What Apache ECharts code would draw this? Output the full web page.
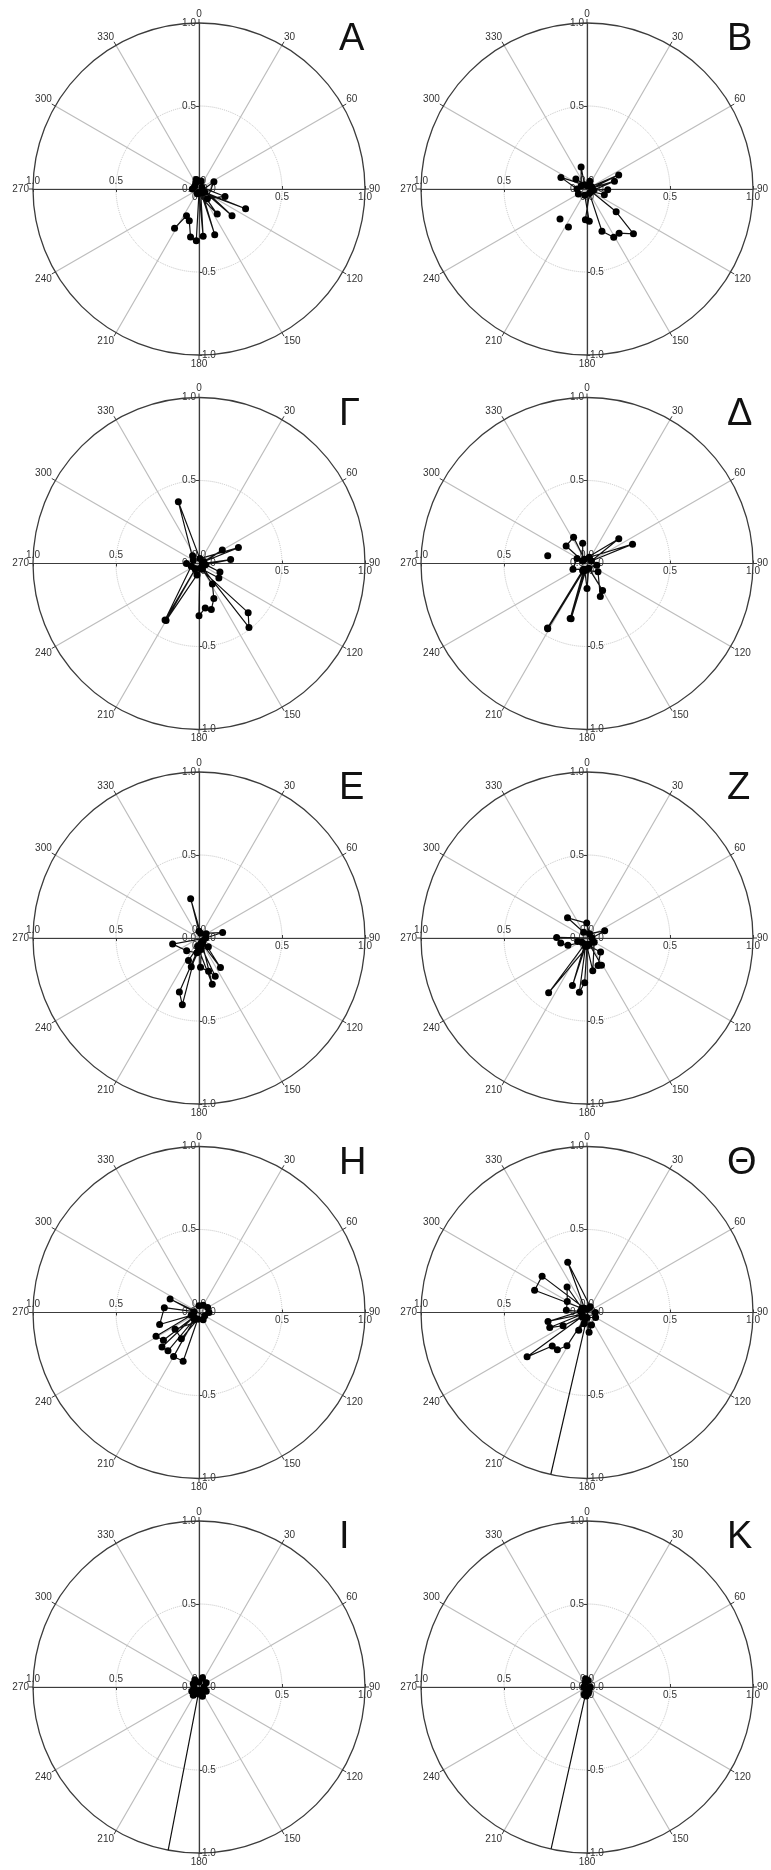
<!DOCTYPE html>
<html lang="en">
<head>
<meta charset="UTF-8">
<title>Polar vector panels</title>
<style>
    html, body { margin: 0; padding: 0; background: #fff; }
    #myChart { width: 771px; height: 1870px; }
</style>
</head>
<body>
<div id="myChart"></div>
<script src="https://cdn.jsdelivr.net/npm/echarts@6/dist/echarts.min.js"></script>
<script>
    // panel letters (Greek numbering)
    const letters = ['Α', 'Β', 'Γ', 'Δ', 'Ε', 'Ζ', 'Η', 'Θ', 'Ι', 'Κ'];
    const radiusTicks = [0, 0.5, 1.0];

    // radius (r) and angle in degrees (a), in drawing order; null breaks the line
    const rA = [0.04, 0.06, 0.05, 0.03, 0.04, 0.305, 0.04, 0.256, 0.02, 0.163, 0.077, 0.1, 0.03, 0.187, 0.03, 0.291, 0.02, 0.286, 0.02, 0.312, 0.294, 0.2, 0.178, 0.278];
    const aA = [330, 345, 15, 300, 270, 113, 120, 129, 60, 106, 139, 64, 200, 144, 140, 161, 150, 175, 180, 183, 190, 197, 205, 212];

    const rB = [0.05, 0.04, 0.137, 0.03, 0.09, 0.02, 0.172, 0.06, 0.03, 0.209, 0.03, 0.172, 0.04, 0.125, 0.11, 0.03, 0.223, 0.389, 0.329, 0.332, 0.27, 0.03, 0.185, 0.195, 0.04, 0.06, null, 0.243, null, 0.255];
    const aB = [20, 300, 345, 330, 312, 0, 294, 270, 60, 66, 80, 74, 100, 92, 108, 120, 128, 134, 144, 151, 160.5, 150, 183, 176, 200, 240, null, 222, null, 206];

    const rG = [0.04, 0.392, 0.03, 0.256, 0.03, 0.162, 0.02, 0.192, 0.04, 0.136, 0.148, 0.04, 0.148, 0.229, 0.287, 0.27, 0.315, 0.03, 0.419, 0.489, 0.03, 0.075, 0.07, 0.397, 0.04, 0.397, 0.05, 0.06];
    const aG = [300, 341.5, 10, 68, 70, 60, 90, 83, 100, 112, 126, 150, 147, 157, 165, 172, 180, 170, 135, 142, 140, 270, 190, 210, 215, 211, 250, 320];

    const rD = [0.04, 0.298, 0.03, 0.243, 0.03, 0.178, 0.164, 0.03, 0.125, null, 0.241, null, 0.067, 0.091, 0.04, 0.151, 0.03, 0.188, 0.214, 0.083, 0.04, 0.347, 0.04, 0.347, 0.05, 0.459, 0.04, 0.455, 0.05, 0.06];
    const aD = [20, 67, 60, 52, 330, 333, 310, 300, 348, null, 281, null, 297, 248, 200, 180, 160, 150, 158, 127, 190, 196, 200, 197, 205, 211, 210, 211.5, 212, 100];

    const rE = [0.04, 0.242, 0.03, 0.146, 0.04, 0.163, 0.107, 0.09, 0.07, 0.077, 0.03, 0.177, 0.209, 0.25, 0.04, 0.346, 0.415, 0.05, 0.29, 0.04, 0.22, 0.03, 0.18, 0.15, 0.05];
    const aE = [0, 348, 20, 77, 90, 257, 224, 188, 170, 133, 150, 177, 164, 157, 170, 200, 194, 190, 164, 150, 144, 120, 195, 205, 60];

    const rZ = [0.04, 0.169, 0.09, 0.03, 0.115, 0.03, 0.183, 0.161, 0.123, 0.04, 0.118, 0.178, 0.186, 0.04, 0.403, 0.04, 0.3, 0.05, 0.33, 0.27, 0.05, 0.2, 0.05, 0.06];
    const aZ = [330, 316, 359, 30, 68, 90, 271, 259, 249, 230, 136, 158, 152, 160, 215, 200, 197, 190, 188, 183, 180, 170, 120, 250];

    const rH = [0.04, 0.05, 0.06, 0.04, 0.192, 0.03, 0.211, 0.248, 0.05, 0.296, 0.272, 0.04, 0.305, 0.297, 0.05, 0.306, 0.309, 0.04, 0.19, 0.176, 0.05, 0.06];
    const aH = [0, 30, 90, 120, 295, 280, 278, 253, 250, 241, 232, 230, 227, 219, 215, 210, 198, 190, 214, 235, 150, 60];

    const rTh = [0.04, 0.324, 0.03, 0.348, 0.343, 0.04, 0.195, 0.136, 0.125, 0.04, 0.241, 0.03, 0.242, 0.165, 0.04, 0.449, 0.291, 0.287, 0.234, 0.04, 0.118, 0.07, 0.08, 0.12, 0.02, 0.05, 0.06, 0.03, 1.0];
    const aTh = [30, 339, 330, 309, 293, 310, 322, 299, 276, 280, 257, 250, 248, 241, 230, 233.5, 226, 218.5, 211, 200, 205, 195, 160, 174, 0, 90, 120, 180, 192.6];

    const rI = [0.03, 0.05, 0.04, 0.06, 0.03, 0.05, 0.04, 0.06, 0.05, 0.03, 0.05, 0.04, 0.06, 0.03, 0.02, 1.0];
    const aI = [0, 330, 300, 20, 270, 240, 200, 160, 120, 90, 60, 190, 215, 140, 180, 190.7];

    const rK = [0.05, 0.04, 0.055, 0.03, 0.05, 0.02, 0.02, 0.04, 0.045, 0.03, 0.02, 1.0];
    const aK = [350, 10, 185, 160, 195, 90, 270, 170, 200, 340, 190, 192.5];

    const panels = [[rA, aA], [rB, aB], [rG, aG], [rD, aD], [rE, aE], [rZ, aZ], [rH, aH], [rTh, aTh], [rI, aI], [rK, aK]];

    // layout
    const colX = [199, 587];
    const rowY = [189, 563.5, 938, 1312.5, 1687];
    const R = 166;
    const dark = '#3c3c3c';
    const font = 'Liberation Sans';

    const polar = [], angleAxis = [], radiusAxis = [], series = [], graphic = [];

    // label placement of each radius axis: up, right, down, left
    const labelSide = [
        { margin: 3 },
        { margin: -3, verticalAlign: 'top' },     // right axis: labels under the line
        { margin: 3 },
        { margin: -3, verticalAlign: 'bottom' }   // left axis: labels over the line
    ];

    panels.forEach(function (p, i) {
        const cx = colX[i % 2];
        const cy = rowY[Math.floor(i / 2)];
        // one polar for the grid + up axis, three more just to draw the other radius axes
        [90, 0, 270, 180].forEach(function (start, k) {
            const idx = i * 4 + k;
            polar.push({ center: [cx, cy], radius: R });
            angleAxis.push({
                polarIndex: idx,
                type: 'value',
                min: 0,
                max: 360,
                interval: 30,
                startAngle: start,
                clockwise: true,
                show: k === 0,
                axisLine: { lineStyle: { color: dark, width: 1.3 } },
                axisTick: { show: true, length: 4, lineStyle: { color: dark } },
                axisLabel: { margin: 4, color: '#333', fontSize: 10, fontFamily: font },
                splitLine: { show: true, lineStyle: { color: '#bdbdbd', width: 1.2 } }
            });
            radiusAxis.push({
                polarIndex: idx,
                type: 'value',
                min: 0,
                max: 1,
                interval: 0.5,
                z: 3,
                axisLine: { show: true, lineStyle: { color: dark, width: 1.2 } },
                axisTick: { show: true, length: 3, lineStyle: { color: dark } },
                axisLabel: Object.assign({
                    show: true, color: '#333', fontSize: 10, fontFamily: font,
                    formatter: function (v) { return v.toFixed(1); }
                }, labelSide[k]),
                splitLine: k === 0 ? {
                    show: true,
                    lineStyle: { type: 'dotted', width: 1, color: ['rgba(0,0,0,0)', '#c4c4c4', 'rgba(0,0,0,0)'] }
                } : { show: false }
            });
        });

        const r = p[0], a = p[1];
        const data = r.map(function (v, j) { return v === null ? '-' : [v, a[j]]; });
        series.push({
            type: 'line',
            coordinateSystem: 'polar',
            polarIndex: i * 4,
            data: data,
            symbol: 'circle',
            symbolSize: 7,
            showSymbol: true,
            connectNulls: false,
            lineStyle: { color: '#111', width: 1.2 },
            itemStyle: { color: '#000' },
            z: 5,
            silent: true
        });

        graphic.push({
            type: 'text',
            left: cx + 140,
            top: cy - 168,
            style: { text: letters[i], font: '38px "' + font + '"', fill: '#111' }
        });
    });

    const myEchart = echarts.init(document.getElementById('myChart'));
    myEchart.setOption({
        backgroundColor: '#fff',
        animation: false,
        polar: polar,
        angleAxis: angleAxis,
        radiusAxis: radiusAxis,
        series: series,
        graphic: graphic
    });
</script>
</body>
</html>
